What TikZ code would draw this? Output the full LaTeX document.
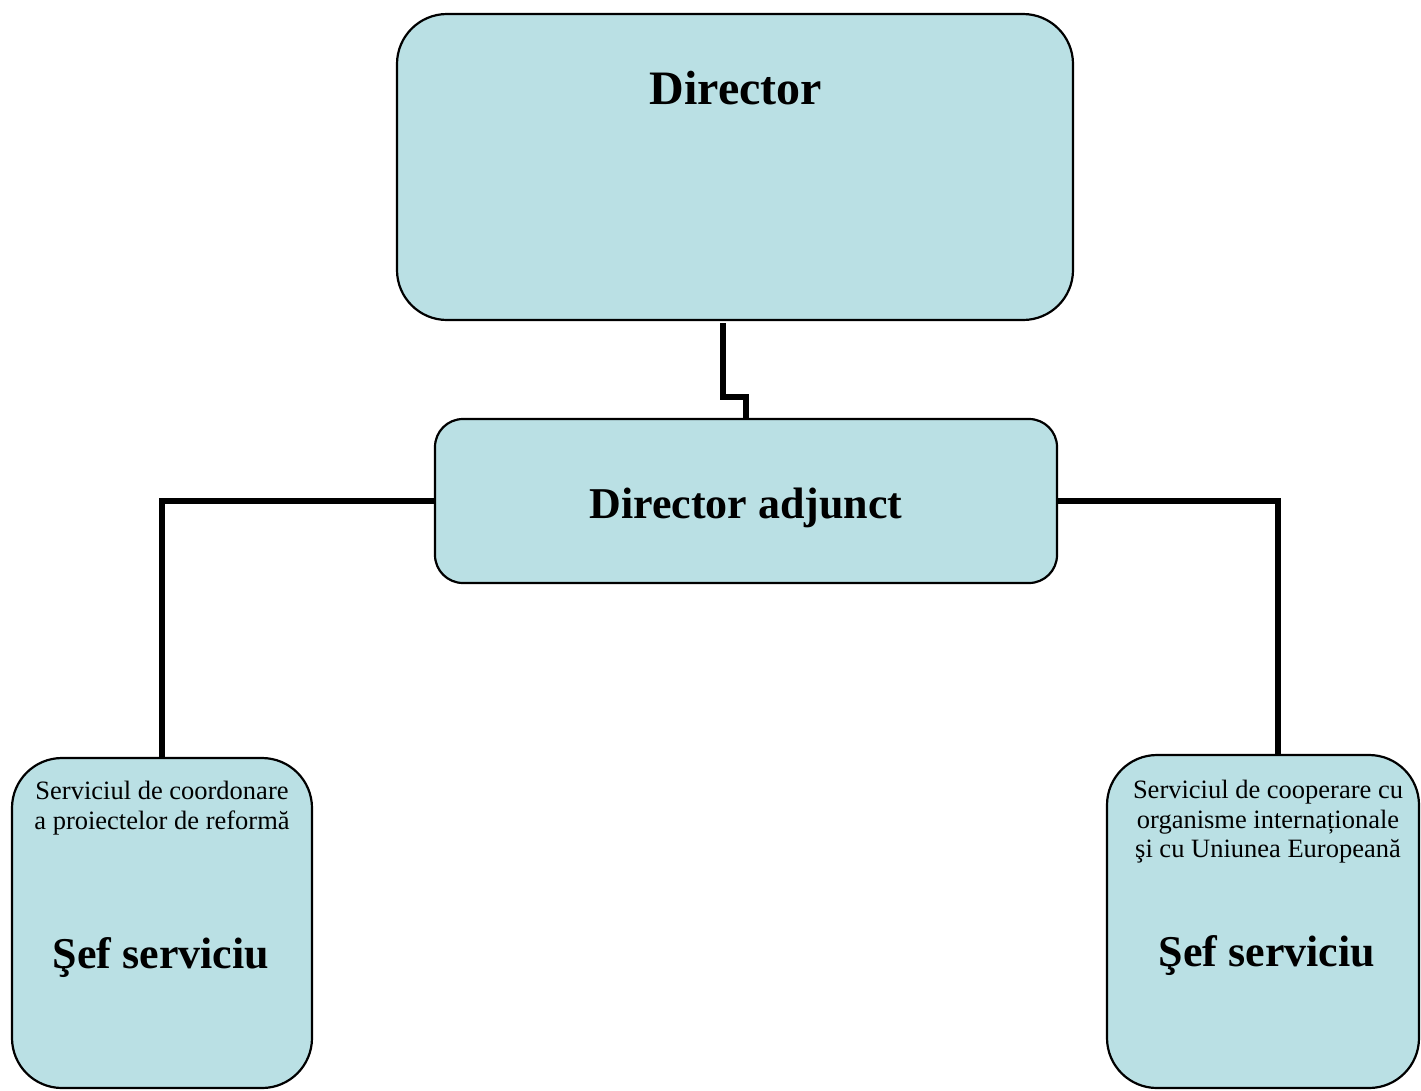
\documentclass[tikz,border=0pt]{standalone}
\usepackage{fontspec}
\setmainfont{Liberation Serif}
\definecolor{boxfill}{RGB}{186,224,228}
\tikzset{
  unitbox/.style={draw=black, line width=2.2pt, fill=boxfill, rectangle,
    inner sep=0pt, outer sep=0pt, anchor=north west},
  conn/.style={draw=black, line width=5.6pt},
  bigtxt/.style={font=\fontsize{44}{50}\selectfont\bfseries, inner sep=0pt, anchor=base},
  smalltxt/.style={font=\fontsize{26.5}{29.5}\selectfont, align=center, inner sep=0pt}
}
\begin{document}
\begin{tikzpicture}[x=1pt,y=-1pt]
  \useasboundingbox (0,0) rectangle (1421,1090);

  % boxes
  \node[unitbox, rounded corners=50pt, minimum width=676pt, minimum height=306pt] (dir) at (397,14) {};
  \node[unitbox, rounded corners=28pt, minimum width=622pt, minimum height=164pt] (adj) at (435,419) {};
  \node[unitbox, rounded corners=50pt, minimum width=300pt, minimum height=330pt] (lbox) at (12,758) {};
  \node[unitbox, rounded corners=50pt, minimum width=312pt, minimum height=333pt] (rbox) at (1107,755) {};

  % labels
  \node[bigtxt, font=\fontsize{48}{54}\selectfont\bfseries] (dirtxt) at (736,104) {Director};
  \node[bigtxt] (adjtxt) at (746,518) {Director adjunct};
  \node[smalltxt] (ltxt) at (162,808) {Serviciul de coordonare\\a proiectelor de reformă};
  \node[bigtxt] (lsef) at (161,968) {Şef serviciu};
  \node[smalltxt] (rtxt) at (1268,822) {Serviciul de cooperare cu\\organisme internaționale\\şi cu Uniunea Europeană};
  \node[bigtxt] (rsef) at (1267,966) {Şef serviciu};

  % connectors
  \draw[conn] ([xshift=-12pt,yshift=-3pt]dir.south) -- ++(0,74) -| (adj.north);
  \draw[conn] (adj.west) -| (lbox.north);
  \draw[conn] (adj.east) -| ([xshift=15pt]rbox.north);
\end{tikzpicture}
\end{document}
